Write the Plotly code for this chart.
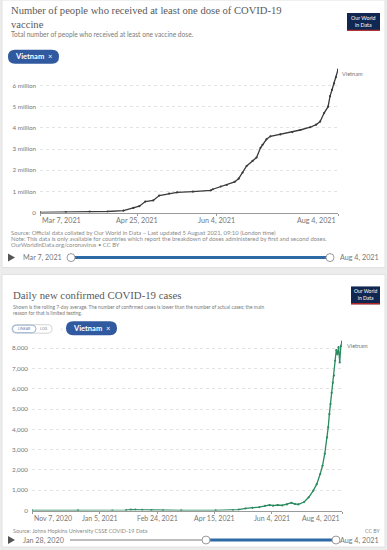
import plotly.graph_objects as go

W, H = 387, 550

# ---------------- data ----------------
vax_dates = ["2021-03-07", "2021-03-20", "2021-04-01", "2021-04-10", "2021-04-18", "2021-04-23",
             "2021-04-26", "2021-04-29", "2021-05-03", "2021-05-06", "2021-05-11", "2021-05-15",
             "2021-05-23", "2021-06-01", "2021-06-02", "2021-06-06", "2021-06-09", "2021-06-13",
             "2021-06-15", "2021-06-17", "2021-06-19", "2021-06-22", "2021-06-24", "2021-06-26",
             "2021-06-27", "2021-06-29", "2021-07-01", "2021-07-06", "2021-07-12", "2021-07-16",
             "2021-07-21", "2021-07-24", "2021-07-26", "2021-07-28", "2021-07-30", "2021-07-31",
             "2021-08-01", "2021-08-02", "2021-08-03", "2021-08-04"]
vax_values = [5000, 20000, 40000, 50000, 90000, 220000,
              300000, 520000, 570000, 800000, 900000, 950000,
              990000, 1050000, 1100000, 1230000, 1300000, 1450000,
              1600000, 1890000, 2200000, 2440000, 2600000, 3060000,
              3200000, 3460000, 3600000, 3690000, 3800000, 3900000,
              4030000, 4150000, 4300000, 4700000, 5000000, 5500000,
              5800000, 6100000, 6400000, 6750000]
vax_tick_dates = ["2021-03-07", "2021-04-25", "2021-06-04", "2021-08-04"]
vax_tick_labels = ["Mar 7, 2021", "Apr 25, 2021", "Jun 4, 2021", "Aug 4, 2021"]
vax_y_ticks = [0, 1e6, 2e6, 3e6, 4e6, 5e6, 6e6]
vax_y_labels = ["0", "1 million", "2 million", "3 million", "4 million", "5 million", "6 million"]

case_dates = ["2020-11-07", "2020-12-17", "2021-01-16", "2021-01-28", "2021-02-01", "2021-02-05",
              "2021-02-11", "2021-02-19", "2021-03-01", "2021-03-17", "2021-04-16", "2021-05-01",
              "2021-05-06", "2021-05-12", "2021-05-18", "2021-05-24", "2021-05-29", "2021-06-02",
              "2021-06-05", "2021-06-09", "2021-06-13", "2021-06-17", "2021-06-21", "2021-06-24",
              "2021-06-27", "2021-07-02", "2021-07-06", "2021-07-10", "2021-07-13", "2021-07-16",
              "2021-07-18", "2021-07-20", "2021-07-22", "2021-07-23", "2021-07-24", "2021-07-25",
              "2021-07-26", "2021-07-27", "2021-07-28", "2021-07-29", "2021-07-30", "2021-07-31",
              "2021-08-01", "2021-08-02", "2021-08-03", "2021-08-04"]
case_values = [2, 2, 1, 15, 45, 50,
               35, 25, 10, 4, 3, 10,
               45, 100, 130, 170, 230, 270,
               240, 270, 250, 300, 380, 320,
               300, 420, 650, 980, 1300, 1800,
               2200, 2800, 3600, 4100, 4750, 5250,
               5800, 6300, 6650, 7380, 7900, 7700,
               8050, 7300, 8100, 8330]
case_tick_dates = ["2020-11-07", "2021-01-05", "2021-02-24", "2021-04-15", "2021-06-04", "2021-08-04"]
case_tick_labels = ["Nov 7, 2020", "Jan 5, 2021", "Feb 24, 2021", "Apr 15, 2021", "Jun 4, 2021", "Aug 4, 2021"]
case_y_ticks = [0, 1000, 2000, 3000, 4000, 5000, 6000, 7000, 8000]
case_y_labels = ["0", "1,000", "2,000", "3,000", "4,000", "5,000", "6,000", "7,000", "8,000"]

# ---------------- helpers ----------------
def X(px):
    return px / W


def Y(py):
    return 1 - py / H


def rrect(x0, y0, x1, y1, r):
    pts = [("M", x0 + r, y0), ("L", x1 - r, y0), ("Q", x1, y0, x1, y0 + r), ("L", x1, y1 - r),
           ("Q", x1, y1, x1 - r, y1), ("L", x0 + r, y1), ("Q", x0, y1, x0, y1 - r),
           ("L", x0, y0 + r), ("Q", x0, y0, x0 + r, y0)]
    s = ""
    for p in pts:
        if p[0] == "Q":
            s += f"Q{X(p[1])},{Y(p[2])} {X(p[3])},{Y(p[4])} "
        else:
            s += f"{p[0]}{X(p[1])},{Y(p[2])} "
    return s + "Z"


SANS = "Lato, 'Open Sans', sans-serif"
SERIF = "'Liberation Serif', 'DejaVu Serif', serif"

fig = go.Figure()

fig.add_trace(go.Scatter(x=vax_dates, y=vax_values, mode="lines+markers",
                         line=dict(color="#3a3a3a", width=1.3),
                         marker=dict(size=2.2, color="#3a3a3a"),
                         xaxis="x", yaxis="y", showlegend=False, hoverinfo="skip"))
fig.add_trace(go.Scatter(x=case_dates, y=case_values, mode="lines+markers",
                         line=dict(color="#2a8a60", width=1.3),
                         marker=dict(size=2.2, color="#2a8a60"),
                         xaxis="x2", yaxis="y2", showlegend=False, hoverinfo="skip"))

shapes = []
annotations = []

# panels
shapes.append(dict(type="rect", xref="paper", yref="paper", x0=X(2), x1=X(385), y0=Y(269), y1=Y(0),
                   fillcolor="white", line=dict(color="#e2e2e2", width=1), layer="below"))
shapes.append(dict(type="rect", xref="paper", yref="paper", x0=X(2), x1=X(385), y0=Y(550), y1=Y(276),
                   fillcolor="white", line=dict(color="#e2e2e2", width=1), layer="below"))


def ann(x, y, text, size, color="#666", xanchor="left", family=SANS, **kw):
    d = dict(xref="paper", yref="paper", x=X(x), y=Y(y), text=text, showarrow=False,
             xanchor=xanchor, yanchor="middle", font=dict(size=size, color=color, family=family))
    d.update(kw)
    annotations.append(d)


def logo(x0, y0, x1, y1, size):
    shapes.append(dict(type="rect", xref="paper", yref="paper", x0=X(x0), x1=X(x1), y0=Y(y1), y1=Y(y0),
                       fillcolor="#0f2751", line=dict(width=0)))
    shapes.append(dict(type="rect", xref="paper", yref="paper", x0=X(x0), x1=X(x1), y0=Y(y1), y1=Y(y1 - 1.2),
                       fillcolor="#ce261e", line=dict(width=0)))
    ann((x0 + x1) / 2, (y0 + y1) / 2 - 0.5, "Our World<br>in Data", size, "white", "center")


def pill(x0, y0, x1, y1, text, size):
    shapes.append(dict(type="path", xref="paper", yref="paper", path=rrect(x0, y0, x1, y1, (y1 - y0) / 2),
                       fillcolor="#30599f", line=dict(width=0)))
    ann((x0 + x1) / 2, (y0 + y1) / 2, text, size, "white", "center")


def timeline(y, left_text, right_text, xa, xb, xgray=None):
    shapes.append(dict(type="path", xref="paper", yref="paper",
                       path=f"M{X(8)},{Y(y - 4)} L{X(15)},{Y(y)} L{X(8)},{Y(y + 4)} Z",
                       fillcolor="#555", line=dict(width=0)))
    ann(21, y, left_text, 7.2, "#777")
    if xgray is not None:
        shapes.append(dict(type="line", xref="paper", yref="paper", x0=X(xgray), x1=X(xa), y0=Y(y), y1=Y(y),
                           line=dict(color="#bdbdbd", width=2)))
    shapes.append(dict(type="line", xref="paper", yref="paper", x0=X(xa), x1=X(xb), y0=Y(y), y1=Y(y),
                       line=dict(color="#2e6aa6", width=3)))
    for cx in (xa, xb):
        shapes.append(dict(type="circle", xref="paper", yref="paper", x0=X(cx - 4), x1=X(cx + 4),
                           y0=Y(y + 4), y1=Y(y - 4), fillcolor="white", line=dict(color="#9a9a9a", width=1)))
    ann(381, y, right_text, 7.2, "#777", "right")


# ---------- top chart decorations ----------
ann(9, 18, "Number of people who received at least one dose of COVID-19<br>vaccine", 10.6, "#5a5a5a",
    family=SERIF, align="left")
ann(9, 34, "Total number of people who received at least one vaccine dose.", 6.6, "#7a7a7a")
pill(8, 50, 59, 64, "<b>Vietnam</b>  ×", 7.5)
logo(347, 13, 380, 31, 5.3)
ann(340, 73.5, "Vietnam", 5.6, "#777")
for d, t in zip(vax_tick_dates, vax_tick_labels):
    xa = "left" if d == vax_tick_dates[0] else ("right" if d == vax_tick_dates[-1] else "center")
    annotations.append(dict(xref="x", yref="paper", x=d, y=Y(221.5), text=t, showarrow=False,
                            xanchor=xa, yanchor="middle", font=dict(size=7.2, color="#777", family=SANS)))
ann(9, 234, "Source: Official data collated by Our World in Data – Last updated 5 August 2021, 09:10 (London time)",
    5.9, "#8a8a8a")
ann(9, 240, "Note: This data is only available for countries which report the breakdown of doses administered by first and second doses.",
    5.9, "#8a8a8a")
ann(9, 246, "OurWorldInData.org/coronavirus • CC BY", 5.9, "#8a8a8a")
timeline(259, "Mar 7, 2021", "Aug 4, 2021", 71, 330)

# ---------- bottom chart decorations ----------
ann(11, 297, "Daily new confirmed COVID-19 cases", 10.8, "#5a5a5a", family=SERIF)
ann(11, 308.7, "Shown is the rolling 7-day average. The number of confirmed cases is lower than the number of actual cases; the main",
    4.9, "#7a7a7a")
ann(11, 314.3, "reason for that is limited testing.", 4.9, "#7a7a7a")
shapes.append(dict(type="path", xref="paper", yref="paper", path=rrect(12, 326.5, 52, 335, 4.2),
                   fillcolor="white", line=dict(color="#c8c8c8", width=0.8)))
shapes.append(dict(type="path", xref="paper", yref="paper", path=rrect(12.5, 327, 36, 334.5, 3.7),
                   fillcolor="white", line=dict(color="#7fa0c8", width=0.8)))
ann(24.2, 330.8, "LINEAR", 3.6, "#5d7ea8", "center")
ann(44, 330.8, "LOG", 3.6, "#888", "center")
ann(61, 330.5, "|", 4.5, "#bbb", "center")
pill(66, 323, 117, 337, "<b>Vietnam</b>  ×", 7.5)
logo(351, 288, 380, 306, 5.0)
ann(345, 347, "Vietnam", 5.6, "#777")
for d, t in zip(case_tick_dates, case_tick_labels):
    xa = "left" if d == case_tick_dates[0] else ("right" if d == case_tick_dates[-1] else "center")
    annotations.append(dict(xref="x2", yref="paper", x=d, y=Y(521), text=t, showarrow=False,
                            xanchor=xa, yanchor="middle", font=dict(size=7.0, color="#777", family=SANS)))
ann(11, 533.5, "Source: Johns Hopkins University CSSE COVID-19 Data", 5.5, "#8a8a8a")
ann(382, 533.5, "CC BY", 5.2, "#8a8a8a", "right")
timeline(543, "Jan 28, 2020", "Aug 4, 2021", 206, 336, xgray=70)

# ---------- axes ----------
TOP_BOT, TOP_TOP = 213.7, 213.7 - 7.0 * 21.28
BOT_BOT, BOT_TOP = 513.3, 513.3 - 8.5 * 20.4

common_x = dict(type="date", showgrid=False, zeroline=False, showline=True, linecolor="#9a9a9a",
                linewidth=1, ticks="outside", ticklen=2, tickcolor="#9a9a9a", showticklabels=False,
                fixedrange=True)
common_y = dict(showgrid=True, gridcolor="#e3e3e3", griddash="dot", gridwidth=1, zeroline=False,
                showline=False, ticks="", tickfont=dict(size=6.3, color="#777", family=SANS),
                fixedrange=True, ticklabelstandoff=3)

fig.update_layout(
    width=W, height=H, autosize=False,
    margin=dict(l=0, r=0, t=0, b=0),
    paper_bgcolor="#ececec", plot_bgcolor="rgba(0,0,0,0)",
    showlegend=False,
    xaxis=dict(common_x, domain=[X(40), X(338)], range=["2021-03-07", "2021-08-04"],
               tickvals=vax_tick_dates, anchor="y"),
    yaxis=dict(common_y, domain=[Y(TOP_BOT), Y(TOP_TOP)], range=[0, 7.0e6],
               tickvals=vax_y_ticks, ticktext=vax_y_labels, anchor="x"),
    xaxis2=dict(common_x, domain=[X(32), X(342)], range=["2020-11-07", "2021-08-04"],
                tickvals=case_tick_dates, anchor="y2"),
    yaxis2=dict(common_y, domain=[Y(BOT_BOT), Y(BOT_TOP)], range=[0, 8500],
                tickvals=case_y_ticks, ticktext=case_y_labels, anchor="x2"),
    shapes=shapes,
    annotations=annotations,
)

fig.write_html("out.html", config={"displayModeBar": False},
               post_script="document.body.style.margin='0';document.body.style.overflow='hidden';")
